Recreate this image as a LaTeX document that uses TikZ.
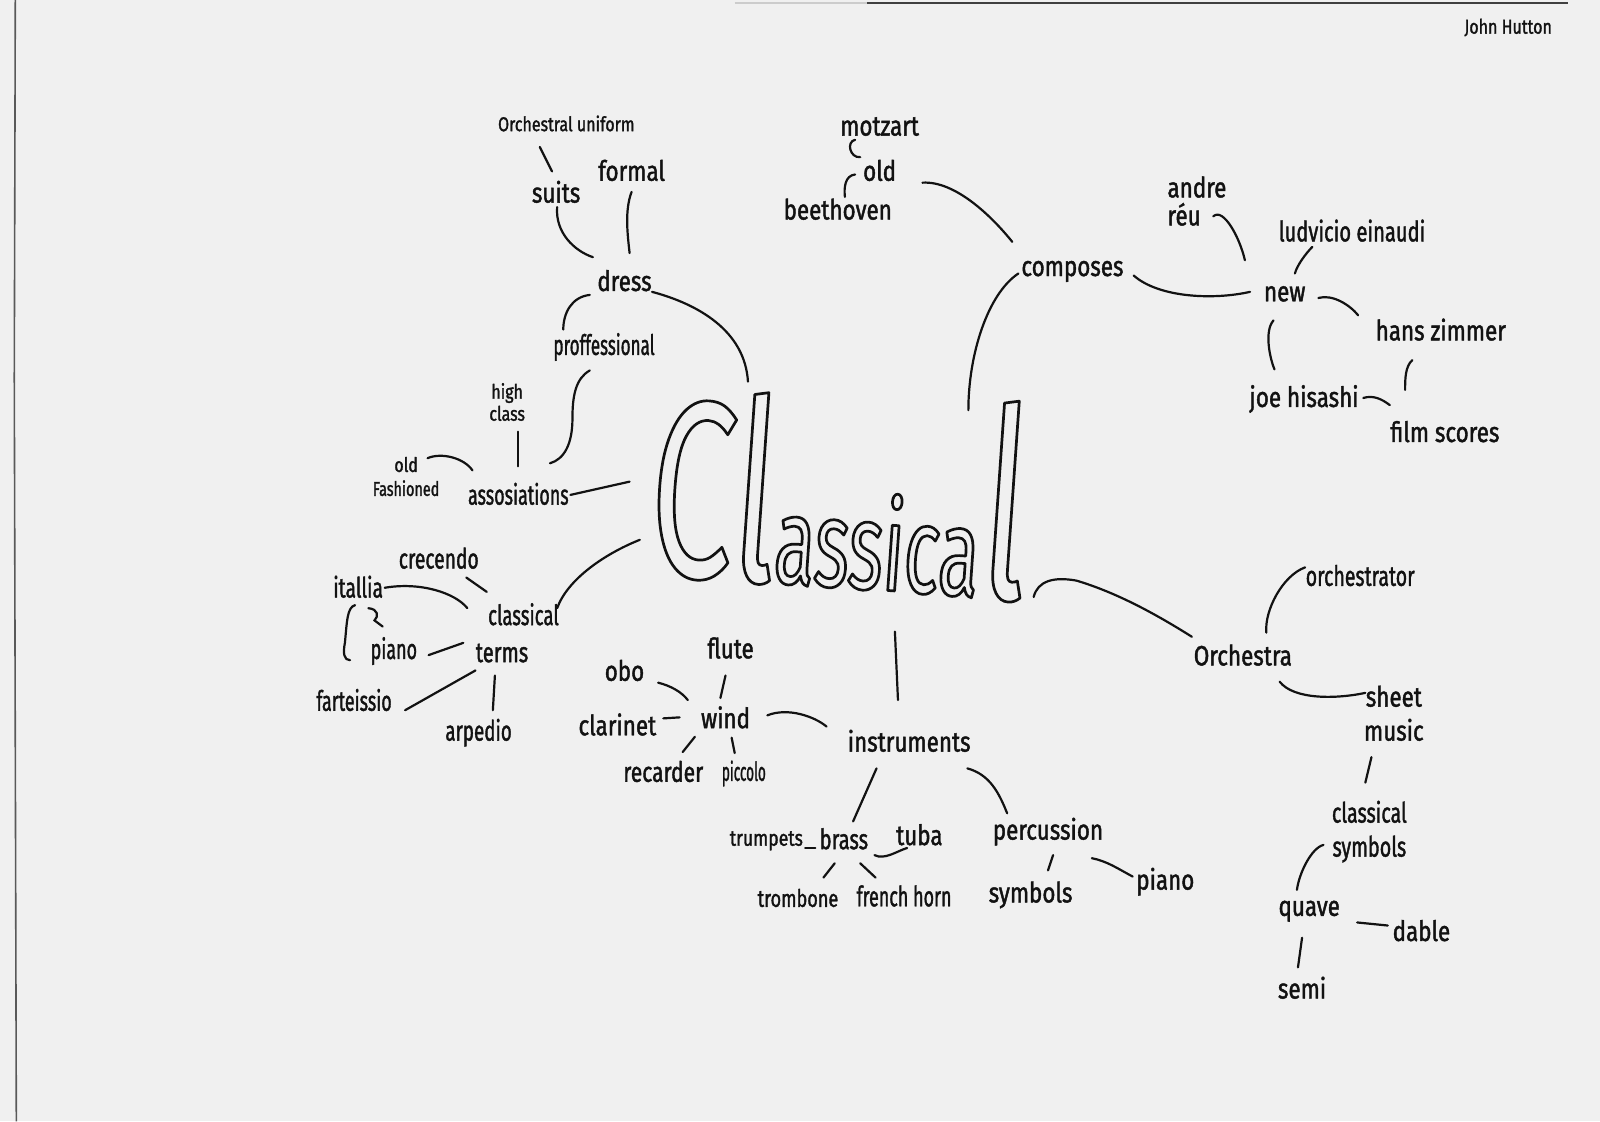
\documentclass[tikz,border=0pt]{standalone}
\usepackage{fontspec}
\setmainfont{Fira Sans}[FakeStretch=0.8,FakeBold=1.5]
\newfontfamily\bigfont{Fira Sans}[FakeStretch=0.6]
\usepackage{graphicx}
\usetikzlibrary{calc}
\definecolor{paper}{HTML}{F0F0F0}
\definecolor{ink}{HTML}{121212}
\newcommand\nx[2]{\scalebox{#1}[1]{#2}}
\newcommand\outlinetext[1]{\special{pdf:literal direct 1 Tr 1.35 w 1 j}#1\special{pdf:literal direct 0 Tr}}
\begin{document}
\begin{tikzpicture}[x=0.5102pt,y=-0.5102pt,
  lbl/.style={text=ink, inner sep=1pt, font=\fontsize{14}{15}\selectfont},
  sml/.style={font=\fontsize{10}{11}\selectfont},
  inkline/.style={draw=ink, line width=1.1pt, line cap=round}]
\fill[paper] (0,0) rectangle (1568,1099);
\useasboundingbox (0,0) rectangle (1568,1099);
% paper edges
\draw[gray!70!black, line width=0.8pt] (15,0) -- (14,370) -- (16,1099);
\draw[gray!40, line width=1pt] (720,3) -- (850,3);
\draw[gray!50!black, line width=1.2pt] (850,3) -- (1537,3);

% central word (outlined letters)
\node[anchor=base west, inner sep=0pt, rotate=-4, text=ink] (Classical) at (632,562)
  {\outlinetext{\bigfont\fontsize{126}{126}\selectfont Cl\fontsize{62}{62}\selectfont assica\fontsize{132}{132}\selectfont l}};

% labels
\node[lbl,sml] (uniform) at (555,121) {Orchestral uniform};
\node[lbl] (suits) at (545,188) {suits};
\node[lbl] (formal) at (619,167) {formal};
\node[lbl] (dress) at (612,275) {dress};
\node[lbl] (prof) at (592,340) {\nx{0.76}{proffessional}};
\node[lbl,sml,align=center] (high) at (497,394) {high\\class};
\node[lbl,font=\fontsize{10}{12}\selectfont,align=center] (oldf) at (398,467) {old\\\nx{0.9}{Fashioned}};
\node[lbl] (assoc) at (508,484) {\nx{0.8}{assosiations}};
\node[lbl] (cresc) at (430,547) {\nx{0.86}{crecendo}};
\node[lbl] (italia) at (351,575) {\nx{0.86}{itallia}};
\node[lbl] (classic) at (513,602) {\nx{0.83}{classical}};
\node[lbl] (terms) at (492,640) {\nx{0.9}{terms}};
\node[lbl] (pianoL) at (386,638) {\nx{0.8}{piano}};
\node[lbl] (forte) at (347,686) {\nx{0.8}{farteissio}};
\node[lbl] (arp) at (469,718) {\nx{0.84}{arpedio}};
\node[lbl] (obo) at (612,657) {obo};
\node[lbl] (flute) at (716,635) {flute};
\node[lbl] (clar) at (605,710) {clarinet};
\node[lbl] (wind) at (711,703) {wind};
\node[lbl] (rec) at (650,756) {\nx{0.94}{recarder}};
\node[lbl,font=\fontsize{13}{14}\selectfont] (picc) at (729,758) {\nx{0.65}{piccolo}};
\node[lbl] (instr) at (891,726) {instruments};
\node[lbl,font=\fontsize{11}{12}\selectfont] (trump) at (751,824) {trumpets};
\node[lbl] (brass) at (827,822) {\nx{0.9}{brass}};
\node[lbl] (tuba) at (901,818) {tuba};
\node[lbl,font=\fontsize{12}{13}\selectfont] (tromb) at (782,880) {\nx{0.94}{trombone}};
\node[lbl] (french) at (886,878) {\nx{0.8}{french horn}};
\node[lbl] (perc) at (1027,815) {percussion};
\node[lbl] (symb) at (1010,877) {symbols};
\node[lbl] (pianoR) at (1142,864) {piano};
\node[lbl] (motz) at (862,124) {motzart};
\node[lbl] (old) at (862,167) {old};
\node[lbl] (beet) at (821,205) {beethoven};
\node[lbl] (comp) at (1051,266) {composes};
\node[lbl,font=\fontsize{14}{14}\selectfont,align=left] (andre) at (1173,197) {andre\\réu};
\node[lbl] (ludo) at (1325,226) {\nx{0.9}{ludvicio einaudi}};
\node[lbl] (new) at (1259,288) {new};
\node[lbl] (hans) at (1412,323) {hans zimmer};
\node[lbl] (joe) at (1278,391) {joe hisashi};
\node[lbl] (film) at (1416,423) {film scores};
\node[lbl] (orchr) at (1333,564) {\nx{0.87}{orchestrator}};
\node[lbl] (orch) at (1218,642) {Orchestra};
\node[lbl,font=\fontsize{14}{17}\selectfont,align=center] (sheet) at (1366,699) {sheet\\music};
\node[lbl,font=\fontsize{14}{17}\selectfont,align=center] (csym) at (1342,815) {\nx{0.88}{classical}\\\nx{0.88}{symbols}};
\node[lbl] (quave) at (1283,893) {quave};
\node[lbl] (dable) at (1393,912) {dable};
\node[lbl] (semi) at (1276,968) {semi};
\node[lbl,sml] (sig) at (1478,27) {John Hutton};

% connectors: dress branch
\draw[inkline] ($(uniform)+(-26,23)$) -- ($(suits)+(-4,-20)$);
\draw[inkline] ($(suits)+(1,15)$) .. controls +(-2,25) and +(-18,-6) .. ($(dress)+(-31,-23)$);
\draw[inkline] ($(formal)+(0,21)$) .. controls +(-7,18) and +(-2,-18) .. ($(dress)+(5,-27)$);
\draw[inkline] ($(dress)+(27,11)$) .. controls +(45,12) and +(-3,-50) .. ($(Classical.base west)+(101,-188)$);
\draw[inkline] ($(dress)+(-34,14)$) .. controls +(-18,2) and +(0,-16) .. ($(prof)+(-40,-17)$);
\draw[inkline] ($(prof)+(-14,23)$) .. controls +(-14,8) and +(0,-22) .. ++(-17,47)
   .. controls +(0,25) and +(14,-4) .. ($(assoc)+(31,-30)$);
\draw[inkline] ($(high)+(11,29)$) -- ($(assoc)+(0,-27)$);
\draw[inkline] ($(oldf)+(21,-18)$) .. controls +(14,-6) and +(-8,-12) .. ($(assoc)+(-45,-23)$);
\draw[inkline] ($(assoc)+(51,1)$) -- ($(Classical.base west)+(-15,-90)$);

% classical terms branch
\draw[inkline] ($(classic)+(33,-6)$) .. controls +(10,-28) and +(-35,14) .. ($(Classical.base west)+(-5,-33)$);
\draw[inkline] ($(cresc)+(27,19)$) -- ($(classic)+(-36,-22)$);
\draw[inkline] ($(italia)+(26,1)$) .. controls +(35,-6) and +(-12,-15) .. ($(classic)+(-55,-6)$);
\draw[inkline] ($(italia)+(10,21)$) .. controls +(10,1) and +(4,-4) .. ++(6,12) -- ($(pianoL)+(-11,-24)$);
\draw[inkline] ($(italia)+(-3,18)$) .. controls +(-8,2) and +(2,-20) .. ++(-10,37)
   .. controls +(-2,10) and +(-6,0) .. ($(forte)+(-4,-39)$);
\draw[inkline] ($(pianoL)+(34,4)$) -- ($(terms)+(-38,-10)$);
\draw[inkline] ($(forte)+(50,10)$) -- ($(terms)+(-26,17)$);
\draw[inkline] ($(terms)+(-7,22)$) -- ($(arp)+(14,-22)$);

% wind and instruments
\draw[inkline] ($(obo)+(33,12)$) .. controls +(12,3) and +(-6,-8) .. ($(wind)+(-37,-17)$);
\draw[inkline] ($(flute)+(-5,27)$) -- ($(wind)+(-5,-19)$);
\draw[inkline] ($(clar)+(45,-6)$) -- ($(wind)+(-45,0)$);
\draw[inkline] ($(wind)+(-30,19)$) -- ($(rec)+(19,-19)$);
\draw[inkline] ($(wind)+(6,20)$) -- ($(picc)+(-9,-20)$);
\draw[inkline] ($(wind)+(41,-2)$) .. controls +(20,-8) and +(-12,-10) .. ($(instr)+(-81,-14)$);
\draw[inkline] ($(Classical.base west)+(245,57)$) -- ($(instr)+(-11,-40)$);
\draw[inkline] ($(instr)+(-32,27)$) -- ($(brass)+(9,-17)$);
\draw[inkline] ($(instr)+(57,27)$) .. controls +(22,6) and +(-8,-20) .. ($(perc)+(-40,-18)$);
\draw[inkline] ($(trump)+(38,7)$) -- ($(brass)+(-28,9)$);
\draw[inkline] ($(brass)+(30,16)$) .. controls +(10,5) and +(-10,3) .. ($(tuba)+(-12,13)$);
\draw[inkline] ($(brass)+(-9,24)$) -- ($(tromb)+(25,-20)$);
\draw[inkline] ($(brass)+(16,24)$) -- ($(french)+(-28,-18)$);
\draw[inkline] ($(perc)+(5,23)$) -- ($(symb)+(17,-24)$);
\draw[inkline] ($(perc)+(43,26)$) .. controls +(15,3) and +(-15,-8) .. ($(pianoR)+(-32,-5)$);

% composes branch
\draw[inkline] ($(motz)+(-24,13)$) .. controls +(-9,2) and +(-10,1) .. ($(old)+(-19,-13)$);
\draw[inkline] ($(old)+(-24,4)$) .. controls +(-10,1) and +(-1,-9) .. ($(beet)+(7,-12)$);
\draw[inkline] ($(old)+(42,12)$) .. controls +(32,-2) and +(-20,-25) .. ($(comp)+(-59,-29)$);
\draw[inkline] ($(comp)+(-53,2)$) .. controls +(-30,20) and +(0,-55) .. ($(Classical.base west)+(317,-160)$);
\draw[inkline] ($(comp)+(60,4)$) .. controls +(25,22) and +(-35,8) .. ($(new)+(-34,-2)$);
\draw[inkline] ($(andre)+(16,15)$) .. controls +(10,-9) and +(-5,-22) .. ($(new)+(-39,-33)$);
\draw[inkline] ($(ludo)+(-39,16)$) .. controls +(-6,6) and +(2,-8) .. ($(new)+(10,-20)$);
\draw[inkline] ($(new)+(33,4)$) .. controls +(14,-4) and +(-8,-10) .. ($(hans)+(-81,-14)$);
\draw[inkline] ($(new)+(-11,26)$) .. controls +(-9,10) and +(-5,-12) .. ($(joe)+(-29,-29)$);
\draw[inkline] ($(hans)+(-28,30)$) .. controls +(-7,6) and +(0,-10) .. ($(film)+(-39,-41)$);
\draw[inkline] ($(joe)+(58,-1)$) .. controls +(10,-3) and +(-8,-6) .. ($(film)+(-54,-26)$);

% orchestra branch
\draw[inkline] ($(Classical.base west)+(381,23)$) .. controls +(4,-16) and +(-22,-4) .. ++(42,-16)
   .. controls +(40,12) and +(-35,-22) .. ($(orch)+(-50,-18)$);
\draw[inkline] ($(orchr)+(-54,-8)$) .. controls +(-22,8) and +(-2,-22) .. ($(orch)+(23,-22)$);
\draw[inkline] ($(orch)+(36,26)$) .. controls +(14,18) and +(-28,6) .. ($(sheet)+(-28,-20)$);
\draw[inkline] ($(sheet)+(-22,43)$) -- ($(csym)+(-4,-48)$);
\draw[inkline] ($(csym)+(-45,13)$) .. controls +(-12,3) and +(2,-16) .. ($(quave)+(-12,-21)$);
\draw[inkline] ($(quave)+(47,11)$) -- ($(dable)+(-33,-5)$);
\draw[inkline] ($(quave)+(-7,26)$) -- ($(semi)+(-4,-20)$);
\end{tikzpicture}
\end{document}
